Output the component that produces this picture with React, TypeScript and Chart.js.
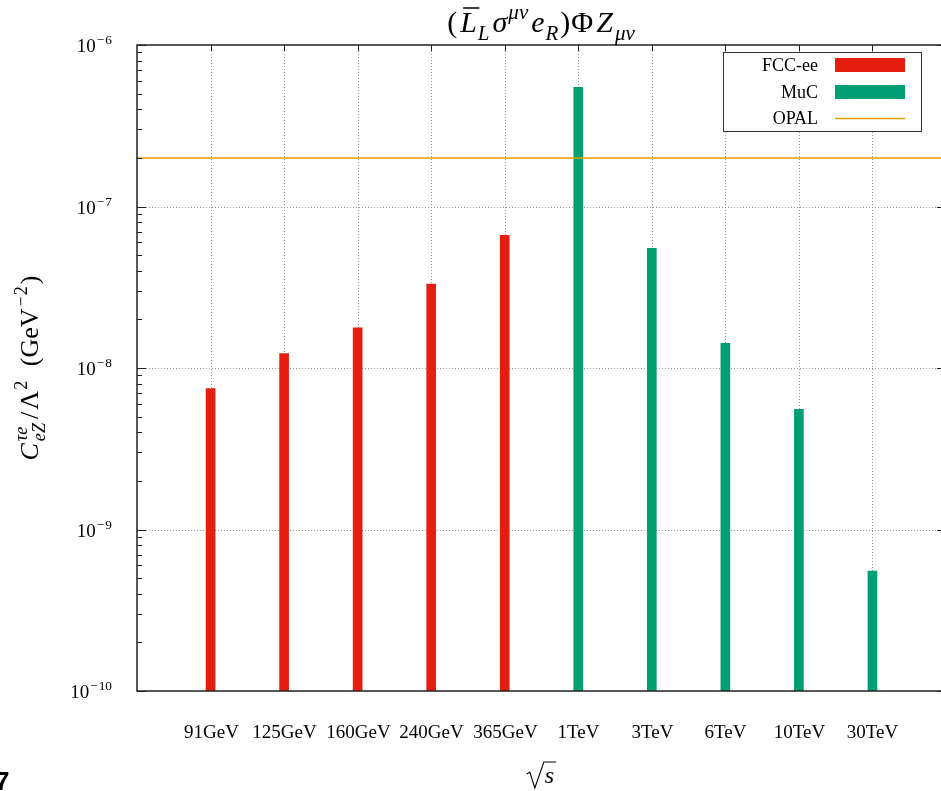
import React, { useEffect, useRef } from 'react';
import { Chart, registerables } from 'chart.js';

Chart.register(...registerables);

// ---------- data ----------
const categories = ['91GeV', '125GeV', '160GeV', '240GeV', '365GeV', '1TeV', '3TeV', '6TeV', '10TeV', '30TeV'];
const fccCategories = ['91GeV', '125GeV', '160GeV', '240GeV', '365GeV'];
const fccValues = [7.45e-9, 1.23e-8, 1.77e-8, 3.31e-8, 6.64e-8];
const mucCategories = ['1TeV', '3TeV', '6TeV', '10TeV', '30TeV'];
const mucValues = [5.47e-7, 5.51e-8, 1.42e-8, 5.55e-9, 5.53e-10];
const opalLimit = 2.0e-7;
const yTickExponents = [-10, -9, -8, -7, -6];

const seriesNames = ['FCC-ee', 'MuC', 'OPAL'];
const colors = { fcc: '#e51e10', muc: '#009e73', opal: '#e69f00' };

const FONT = '"Liberation Serif", "Times New Roman", serif';

type Seg = { t?: string; it?: boolean; v?: 'sub' | 'sup'; over?: boolean; gap?: number; sup?: string; sub?: string };

function segFont(size: number, it?: boolean) {
  return `${it ? 'italic ' : ''}${size}px ${FONT}`;
}

function measureSeg(ctx: CanvasRenderingContext2D, s: Seg, size: number) {
  if (s.sup !== undefined || s.sub !== undefined) {
    ctx.font = segFont(size * 0.7, true);
    return Math.max(ctx.measureText(s.sup || '').width, ctx.measureText(s.sub || '').width) + (s.gap || 0);
  }
  ctx.font = segFont(s.v ? size * 0.7 : size, s.it);
  return ctx.measureText(s.t || '').width + (s.gap || 0);
}

function drawRich(
  ctx: CanvasRenderingContext2D,
  segs: Seg[],
  x: number,
  y: number,
  size: number,
  align: 'left' | 'center' | 'right',
  color = '#000'
) {
  const widths = segs.map((s) => measureSeg(ctx, s, size));
  const total = widths.reduce((a, b) => a + b, 0);
  let cx = align === 'left' ? x : align === 'center' ? x - total / 2 : x - total;
  ctx.fillStyle = color;
  ctx.textAlign = 'left';
  ctx.textBaseline = 'alphabetic';
  segs.forEach((s, i) => {
    const g = s.gap || 0;
    const px = cx + g;
    if (s.sup !== undefined || s.sub !== undefined) {
      ctx.font = segFont(size * 0.7, true);
      if (s.sup) ctx.fillText(s.sup, px, y - size * 0.42);
      if (s.sub) ctx.fillText(s.sub, px, y + size * 0.28);
    } else {
      ctx.font = segFont(s.v ? size * 0.7 : size, s.it);
      const dy = s.v === 'sub' ? size * 0.25 : s.v === 'sup' ? -size * 0.42 : 0;
      ctx.fillText(s.t || '', px, y + dy);
      if (s.over) {
        const w = widths[i] - g;
        ctx.strokeStyle = color;
        ctx.lineWidth = Math.max(1, size * 0.05);
        ctx.beginPath();
        ctx.moveTo(px + size * 0.1, y - size * 0.8);
        ctx.lineTo(px + w + size * 0.08, y - size * 0.8);
        ctx.stroke();
      }
    }
    cx += widths[i];
  });
  return total;
}

const decorPlugin = {
  id: 'decor',
  beforeDatasetsDraw(chart: any) {
    const { ctx, chartArea: a, scales } = chart;
    const xs = scales.x;
    const ys = scales.y;
    ctx.save();
    ctx.setLineDash([1, 2]);
    ctx.strokeStyle = '#9a9a9a';
    ctx.lineWidth = 1;
    yTickExponents.slice(1, -1).forEach((e) => {
      const y = Math.round(ys.getPixelForValue(Math.pow(10, e))) + 0.5;
      ctx.beginPath();
      ctx.moveTo(a.left, y);
      ctx.lineTo(a.right, y);
      ctx.stroke();
    });
    categories.forEach((_, i) => {
      const x = Math.round(xs.getPixelForValue(i + 1)) + 0.5;
      ctx.beginPath();
      ctx.moveTo(x, a.top);
      ctx.lineTo(x, a.bottom);
      ctx.stroke();
    });
    // x tick marks (under the bars)
    ctx.setLineDash([]);
    ctx.strokeStyle = '#222';
    categories.forEach((_, i) => {
      const x = Math.round(xs.getPixelForValue(i + 1)) + 0.5;
      ctx.beginPath();
      ctx.moveTo(x, a.top);
      ctx.lineTo(x, a.top + 6);
      ctx.moveTo(x, a.bottom);
      ctx.lineTo(x, a.bottom - 6);
      ctx.stroke();
    });
    ctx.restore();
  },
  afterDraw(chart: any) {
    const { ctx, chartArea: a, scales } = chart;
    const xs = scales.x;
    const ys = scales.y;
    ctx.save();
    // border
    ctx.strokeStyle = '#222';
    ctx.lineWidth = 1.5;
    ctx.setLineDash([]);
    ctx.strokeRect(a.left, a.top, a.right - a.left, a.bottom - a.top);
    // y ticks
    ctx.lineWidth = 1;
    yTickExponents.forEach((e) => {
      const y = Math.round(ys.getPixelForValue(Math.pow(10, e))) + 0.5;
      ctx.beginPath();
      ctx.moveTo(a.left, y);
      ctx.lineTo(a.left + 9, y);
      ctx.moveTo(a.right, y);
      ctx.lineTo(a.right - 9, y);
      ctx.stroke();
      if (e < -6) {
        for (let m = 2; m <= 9; m++) {
          const ym = Math.round(ys.getPixelForValue(m * Math.pow(10, e))) + 0.5;
          ctx.beginPath();
          ctx.moveTo(a.left, ym);
          ctx.lineTo(a.left + 5, ym);
          ctx.moveTo(a.right, ym);
          ctx.lineTo(a.right - 5, ym);
          ctx.stroke();
        }
      }
      drawRich(
        ctx,
        [{ t: '10' }, { t: '−', v: 'sup', gap: 1 }, { t: String(Math.abs(e)), v: 'sup', gap: 1 }],
        112,
        y + 6,
        19,
        'right'
      );
    });
    // x labels
    categories.forEach((c, i) => {
      const x = Math.round(xs.getPixelForValue(i + 1)) + 0.5;
      ctx.font = `19px ${FONT}`;
      ctx.fillStyle = '#000';
      ctx.textAlign = 'center';
      ctx.textBaseline = 'alphabetic';
      ctx.fillText(c, x, 738);
    });

    // legend
    const lx = 723, ly = 52, lw = 198, lh = 79;
    ctx.fillStyle = '#fff';
    ctx.fillRect(lx, ly, lw, lh);
    ctx.strokeStyle = '#333';
    ctx.lineWidth = 1;
    ctx.strokeRect(lx + 0.5, ly + 0.5, lw, lh);
    const rowY = [65, 92, 118];
    chart.data.datasets.forEach((ds: any, i: number) => {
      const yy = rowY[i];
      ctx.font = `18px ${FONT}`;
      ctx.fillStyle = '#000';
      ctx.textAlign = 'right';
      ctx.textBaseline = 'middle';
      ctx.fillText(ds.label, 818, yy + 1);
      if (ds.type === 'line') {
        ctx.strokeStyle = ds.borderColor;
        ctx.lineWidth = 1.5;
        ctx.beginPath();
        ctx.moveTo(835, yy + 0.5);
        ctx.lineTo(905, yy + 0.5);
        ctx.stroke();
      } else {
        ctx.fillStyle = ds.backgroundColor;
        ctx.fillRect(835, yy - 7, 70, 14);
      }
    });

    // title
    drawRich(
      ctx,
      [
        { t: '(' },
        { t: 'L', it: true, over: true, gap: 3 },
        { t: 'L', it: true, v: 'sub', gap: 1 },
        { t: 'σ', it: true, gap: 3 },
        { t: 'μν', it: true, v: 'sup', gap: 1 },
        { t: 'e', it: true, gap: 3 },
        { t: 'R', it: true, v: 'sub', gap: 1 },
        { t: ')', gap: 2 },
        { t: 'Φ', gap: 1 },
        { t: 'Z', it: true, gap: 3 },
        { t: 'μν', it: true, v: 'sub', gap: 2 },
      ],
      541,
      32,
      30,
      'center'
    );

    // y axis title
    ctx.save();
    ctx.translate(38, 368);
    ctx.rotate(-Math.PI / 2);
    drawRich(
      ctx,
      [
        { t: 'C', it: true },
        { sup: 'τe', sub: 'eZ', gap: 2 },
        { t: '/', gap: 4 },
        { t: 'Λ', gap: 2 },
        { t: '2', v: 'sup', gap: 1 },
        { t: ' (GeV', gap: 8 },
        { t: '−', v: 'sup', gap: 2 },
        { t: '2', v: 'sup', gap: 1 },
        { t: ')', gap: 2 },
      ],
      0,
      0,
      26,
      'center'
    );
    ctx.restore();

    // x axis title: sqrt(s)
    {
      const size = 24;
      ctx.font = segFont(size, true);
      const sw = ctx.measureText('s').width;
      const rw = 17;
      const total = rw + sw + 3;
      const x0 = (a.left + a.right) / 2 - total / 2;
      const base = 783;
      ctx.fillStyle = '#000';
      ctx.textAlign = 'left';
      ctx.textBaseline = 'alphabetic';
      ctx.fillText('s', x0 + rw + 1, base);
      ctx.strokeStyle = '#000';
      ctx.lineWidth = 1.1;
      ctx.beginPath();
      ctx.moveTo(x0, base - 9);
      ctx.lineTo(x0 + 3, base - 11);
      ctx.lineTo(x0 + 8, base + 5);
      ctx.lineTo(x0 + rw, base - 21);
      ctx.lineTo(x0 + total, base - 21);
      ctx.stroke();
    }

    // page number fragment
    ctx.font = 'bold 26px "Liberation Sans", Arial, sans-serif';
    ctx.fillStyle = '#000';
    ctx.textAlign = 'left';
    ctx.textBaseline = 'alphabetic';
    ctx.fillText('7', -5, 790);
    ctx.restore();
  },
};

export default function App() {
  const canvasRef = useRef<HTMLCanvasElement | null>(null);

  useEffect(() => {
    if (!canvasRef.current) return;
    const fccData = fccCategories.map((c, i) => ({ x: categories.indexOf(c) + 1, y: fccValues[i] }));
    const mucData = mucCategories.map((c, i) => ({ x: categories.indexOf(c) + 1, y: mucValues[i] }));
    const chart = new Chart(canvasRef.current, {
      type: 'bar',
      data: {
        datasets: [
          {
            type: 'bar',
            label: seriesNames[0],
            data: fccData,
            backgroundColor: colors.fcc,
            barThickness: 9,
            grouped: false,
            order: 1,
          } as any,
          {
            type: 'bar',
            label: seriesNames[1],
            data: mucData,
            backgroundColor: colors.muc,
            barThickness: 9,
            grouped: false,
            order: 1,
          } as any,
          {
            type: 'line',
            label: seriesNames[2],
            data: [
              { x: 0, y: opalLimit },
              { x: categories.length + 1, y: opalLimit },
            ],
            borderColor: colors.opal,
            backgroundColor: colors.opal,
            borderWidth: 1.5,
            pointRadius: 0,
            order: 0,
          } as any,
        ],
      },
      options: {
        animation: false,
        responsive: false,
        maintainAspectRatio: false,
        layout: { padding: { left: 137, top: 45, right: 5, bottom: 100 } },
        plugins: { legend: { display: false }, tooltip: { enabled: false }, title: { display: false } },
        scales: {
          x: {
            type: 'linear',
            min: 0,
            max: categories.length + 1,
            display: false,
            offset: false,
            grid: { offset: false },
          },
          y: { type: 'logarithmic', min: 1e-10, max: 1e-6, display: false },
        },
      },
      plugins: [decorPlugin],
    });
    return () => chart.destroy();
  }, []);

  return (
    <div
      style={{
        position: 'fixed',
        left: 0,
        top: 0,
        width: 941,
        height: 791,
        overflow: 'hidden',
        background: '#fff',
      }}
    >
      <canvas ref={canvasRef} width={951} height={791} style={{ width: 951, height: 791, display: 'block' }} />
    </div>
  );
}
